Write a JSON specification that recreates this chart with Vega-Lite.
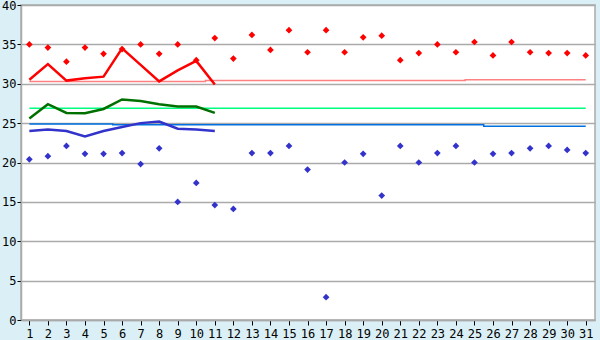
{
  "$schema": "https://vega.github.io/schema/vega-lite/v6.json",
  "autosize": {"type": "none"},
  "padding": {"left": 21, "top": 5, "right": 5, "bottom": 20},
  "width": 574,
  "height": 315,
  "background": "#dbf0f6",
  "config": {
    "view": {"stroke": "#aaaaaa", "strokeWidth": 1.5, "fill": "white"},
    "axis": {"labelFont": "DejaVu Sans Mono", "labelFontSize": 12, "labelColor": "black", "domainColor": "#aaaaaa", "domainWidth": 1.5, "tickColor": "black", "title": null},
    "axisY": {"tickCount": 9, "grid": true, "gridColor": "#aaaaaa", "gridWidth": 1.5, "tickSize": 4, "labelPadding": 1, "labelOverlap": false, "labelFlush": false}
  },
  "data": {
    "values": [
      {"day": 1, "max": 35.0, "min": 20.4, "aMax": 30.5, "aMid": 25.6, "aMin": 24.0, "nMax": 30.3, "nMid": 26.9, "nMin": 24.9},
      {"day": 2, "max": 34.6, "min": 20.8, "aMax": 32.5, "aMid": 27.4, "aMin": 24.2, "nMax": 30.3, "nMid": 26.9, "nMin": 24.9},
      {"day": 3, "max": 32.8, "min": 22.1, "aMax": 30.4, "aMid": 26.3, "aMin": 24.0, "nMax": 30.3, "nMid": 26.9, "nMin": 24.9},
      {"day": 4, "max": 34.6, "min": 21.1, "aMax": 30.7, "aMid": 26.25, "aMin": 23.3, "nMax": 30.3, "nMid": 26.9, "nMin": 24.9},
      {"day": 5, "max": 33.8, "min": 21.1, "aMax": 30.9, "aMid": 26.8, "aMin": 24.0, "nMax": 30.3, "nMid": 26.9, "nMin": 24.9},
      {"day": 6, "max": 34.4, "min": 21.2, "aMax": 34.5, "aMid": 28.0, "aMin": 24.5, "nMax": 30.3, "nMid": 26.9, "nMin": 24.8},
      {"day": 7, "max": 35.0, "min": 19.8, "aMax": 32.4, "aMid": 27.8, "aMin": 25.0, "nMax": 30.3, "nMid": 26.9, "nMin": 24.8},
      {"day": 8, "max": 33.8, "min": 21.8, "aMax": 30.3, "aMid": 27.4, "aMin": 25.2, "nMax": 30.3, "nMid": 26.9, "nMin": 24.8},
      {"day": 9, "max": 35.0, "min": 15.0, "aMax": 31.7, "aMid": 27.1, "aMin": 24.3, "nMax": 30.3, "nMid": 26.9, "nMin": 24.8},
      {"day": 10, "max": 33.0, "min": 17.4, "aMax": 32.9, "aMid": 27.1, "aMin": 24.2, "nMax": 30.3, "nMid": 26.9, "nMin": 24.8},
      {"day": 11, "max": 35.8, "min": 14.6, "aMax": 29.9, "aMid": 26.3, "aMin": 24.0, "nMax": 30.4, "nMid": 26.9, "nMin": 24.8},
      {"day": 12, "max": 33.2, "min": 14.1, "nMax": 30.4, "nMid": 26.9, "nMin": 24.8},
      {"day": 13, "max": 36.2, "min": 21.2, "nMax": 30.4, "nMid": 26.9, "nMin": 24.8},
      {"day": 14, "max": 34.3, "min": 21.2, "nMax": 30.4, "nMid": 26.9, "nMin": 24.8},
      {"day": 15, "max": 36.8, "min": 22.1, "nMax": 30.4, "nMid": 26.9, "nMin": 24.8},
      {"day": 16, "max": 34.0, "min": 19.1, "nMax": 30.4, "nMid": 26.9, "nMin": 24.8},
      {"day": 17, "max": 36.8, "min": 2.9, "nMax": 30.4, "nMid": 26.9, "nMin": 24.8},
      {"day": 18, "max": 34.0, "min": 20.0, "nMax": 30.4, "nMid": 26.9, "nMin": 24.8},
      {"day": 19, "max": 35.9, "min": 21.1, "nMax": 30.4, "nMid": 26.9, "nMin": 24.8},
      {"day": 20, "max": 36.1, "min": 15.8, "nMax": 30.4, "nMid": 26.9, "nMin": 24.8},
      {"day": 21, "max": 33.0, "min": 22.1, "nMax": 30.4, "nMid": 26.9, "nMin": 24.8},
      {"day": 22, "max": 33.9, "min": 20.0, "nMax": 30.4, "nMid": 26.9, "nMin": 24.8},
      {"day": 23, "max": 35.0, "min": 21.2, "nMax": 30.4, "nMid": 26.9, "nMin": 24.8},
      {"day": 24, "max": 34.0, "min": 22.1, "nMax": 30.4, "nMid": 26.9, "nMin": 24.8},
      {"day": 25, "max": 35.3, "min": 20.0, "nMax": 30.5, "nMid": 26.9, "nMin": 24.8},
      {"day": 26, "max": 33.6, "min": 21.1, "nMax": 30.5, "nMid": 26.9, "nMin": 24.6},
      {"day": 27, "max": 35.3, "min": 21.2, "nMax": 30.5, "nMid": 26.9, "nMin": 24.6},
      {"day": 28, "max": 34.0, "min": 21.8, "nMax": 30.5, "nMid": 26.9, "nMin": 24.6},
      {"day": 29, "max": 33.9, "min": 22.1, "nMax": 30.5, "nMid": 26.9, "nMin": 24.6},
      {"day": 30, "max": 33.9, "min": 21.6, "nMax": 30.5, "nMid": 26.9, "nMin": 24.6},
      {"day": 31, "max": 33.6, "min": 21.2, "nMax": 30.5, "nMid": 26.9, "nMin": 24.6}
    ]
  },
  "encoding": {
    "x": {
      "field": "day", "type": "quantitative",
      "scale": {"domain": [0.55, 31.5], "nice": false, "zero": false},
      "axis": {"values": [1,2,3,4,5,6,7,8,9,10,11,12,13,14,15,16,17,18,19,20,21,22,23,24,25,26,27,28,29,30,31], "tickCount": 31, "grid": false, "tickSize": 5, "labelPadding": 3, "labelFlush": false, "labelOverlap": false}
    },
    "y": {"type": "quantitative", "scale": {"domain": [0, 40], "nice": false}, "axis": {"values": [0,5,10,15,20,25,30,35,40], "tickCount": 9}}
  },
  "layer": [
    {
      "mark": {"type": "line", "interpolate": "step", "color": "#ff8080", "strokeWidth": 1.5},
      "encoding": {"y": {"field": "nMax", "type": "quantitative"}}
    },
    {
      "mark": {"type": "line", "interpolate": "step", "color": "#00ff80", "strokeWidth": 1.5},
      "encoding": {"y": {"field": "nMid", "type": "quantitative"}}
    },
    {
      "mark": {"type": "line", "interpolate": "step", "color": "#0070e0", "strokeWidth": 1.5},
      "encoding": {"y": {"field": "nMin", "type": "quantitative"}}
    },
    {
      "mark": {"type": "line", "color": "#ff0000", "strokeWidth": 2.5},
      "encoding": {"y": {"field": "aMax", "type": "quantitative"}}
    },
    {
      "mark": {"type": "line", "color": "#007000", "strokeWidth": 2.5},
      "encoding": {"y": {"field": "aMid", "type": "quantitative"}}
    },
    {
      "mark": {"type": "line", "color": "#3333cc", "strokeWidth": 2.5},
      "encoding": {"y": {"field": "aMin", "type": "quantitative"}}
    },
    {
      "mark": {"type": "point", "shape": "diamond", "filled": true, "opacity": 1, "color": "#ff0000", "size": 45},
      "encoding": {"y": {"field": "max", "type": "quantitative"}}
    },
    {
      "mark": {"type": "point", "shape": "diamond", "filled": true, "opacity": 1, "color": "#3333cc", "size": 45},
      "encoding": {"y": {"field": "min", "type": "quantitative"}}
    }
  ]
}
